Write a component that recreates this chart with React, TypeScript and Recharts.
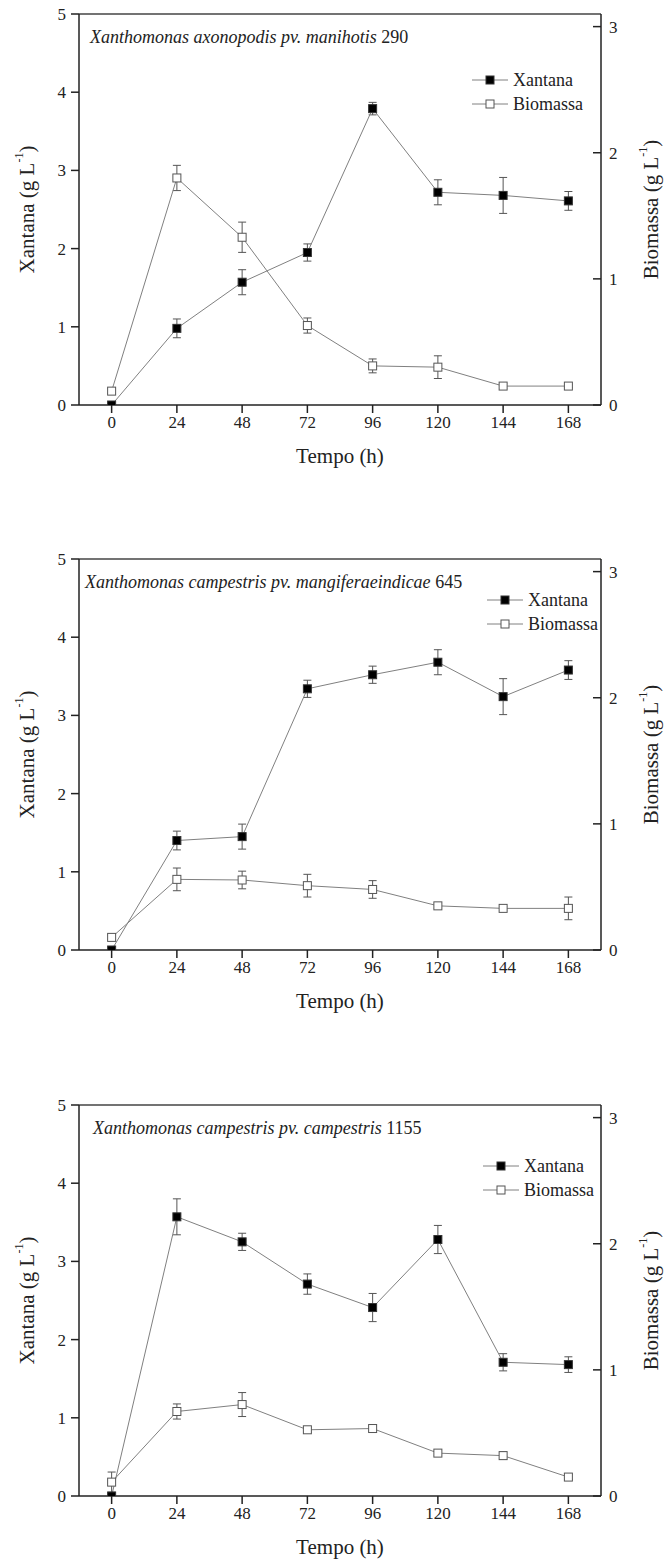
import React from 'react'
import {
  ComposedChart,
  Line,
  XAxis,
  YAxis,
  ErrorBar,
  ReferenceLine,
  Legend,
  Customized,
} from 'recharts'

const serif = "'Liberation Serif', 'Times New Roman', serif"

const hours = [0, 24, 48, 72, 96, 120, 144, 168]
const xTicks = [0, 24, 48, 72, 96, 120, 144, 168]
const leftTicks = [0, 1, 2, 3, 4, 5]
const rightTicks = [0, 1, 2, 3]

// X. axonopodis pv. manihotis 290
const xan290 = [0, 0.98, 1.57, 1.95, 3.79, 2.72, 2.68, 2.61]
const xan290Err = [0, 0.12, 0.16, 0.11, 0.08, 0.16, 0.23, 0.12]
const bio290 = [0.11, 1.8, 1.33, 0.63, 0.31, 0.3, 0.15, 0.15]
const bio290Err = [0.02, 0.1, 0.12, 0.06, 0.055, 0.09, 0.02, 0.01]

// X. campestris pv. mangiferaeindicae 645
const xan645 = [0, 1.4, 1.45, 3.34, 3.52, 3.68, 3.24, 3.58]
const xan645Err = [0, 0.12, 0.16, 0.11, 0.11, 0.16, 0.23, 0.12]
const bio645 = [0.1, 0.56, 0.555, 0.51, 0.48, 0.35, 0.33, 0.33]
const bio645Err = [0.02, 0.09, 0.07, 0.09, 0.07, 0.02, 0.015, 0.09]

// X. campestris pv. campestris 1155
const xan1155 = [0, 3.57, 3.25, 2.71, 2.41, 3.28, 1.71, 1.68]
const xan1155Err = [0, 0.23, 0.11, 0.13, 0.18, 0.18, 0.11, 0.1]
const bio1155 = [0.11, 0.67, 0.725, 0.525, 0.535, 0.34, 0.32, 0.15]
const bio1155Err = [0.08, 0.06, 0.095, 0.02, 0.02, 0.02, 0.03, 0.02]

const axisColor = '#222'
const lineColor = '#808080'

const FilledSquare = (p: any) => {
  if (p.cx == null || p.cy == null) return <g key={p.index} />
  return <rect key={p.index} x={p.cx - 4} y={p.cy - 4} width={8} height={8} fill="#000" stroke="#333" strokeWidth={1} />
}

const OpenSquare = (p: any) => {
  if (p.cx == null || p.cy == null) return <g key={p.index} />
  return <rect key={p.index} x={p.cx - 4} y={p.cy - 4} width={8} height={8} fill="#fff" stroke="#555" strokeWidth={1} />
}

const LegendRow = ({ filled, label }: { filled: boolean; label: string }) => (
  <div style={{ display: 'flex', alignItems: 'center', height: 24 }}>
    <svg width={36} height={12}>
      <line x1={0} y1={6} x2={36} y2={6} stroke={lineColor} strokeWidth={1} />
      <rect x={14} y={2} width={8} height={8} fill={filled ? '#000' : '#fff'} stroke={filled ? '#333' : '#555'} />
    </svg>
    <span style={{ marginLeft: 5, fontFamily: serif, fontSize: 18, color: '#222', lineHeight: '24px' }}>{label}</span>
  </div>
)

type PanelProps = {
  top: number
  name: string
  strain: string
  titleX: number
  legendX: number
  legendY: number
  xan: number[]
  xanErr: number[]
  bio: number[]
  bioErr: number[]
}

const Panel = ({ top, name, strain, titleX, legendX, legendY, xan, xanErr, bio, bioErr }: PanelProps) => {
  const data = hours.map((t, i) => ({
    t,
    xantana: xan[i],
    xantanaErr: xanErr[i],
    biomassa: bio[i],
    biomassaErr: bioErr[i],
  }))

  const tickStyle = { fill: '#222', fontSize: 17, fontFamily: serif }

  return (
    <div style={{ position: 'absolute', left: 0, top }}>
      <ComposedChart width={664} height={475} data={data} margin={{ top: 14, right: 0, bottom: 0, left: 0 }}>
        <XAxis
          dataKey="t"
          type="number"
          domain={[-12, 180]}
          ticks={xTicks}
          height={70}
          tickSize={8}
          tickMargin={3}
          axisLine={{ stroke: axisColor, strokeWidth: 1.5 }}
          tickLine={{ stroke: axisColor, strokeWidth: 1.5 }}
          tick={tickStyle}
          allowDataOverflow
        />
        <YAxis
          yAxisId="left"
          width={79}
          domain={[0, 5]}
          ticks={leftTicks}
          tickSize={8}
          tickMargin={5}
          axisLine={{ stroke: axisColor, strokeWidth: 1.5 }}
          tickLine={{ stroke: axisColor, strokeWidth: 1.5 }}
          tick={tickStyle}
          allowDataOverflow
        />
        <YAxis
          yAxisId="right"
          orientation="right"
          width={63}
          domain={[0, 3.1]}
          ticks={rightTicks}
          tickSize={-8}
          tickMargin={16}
          axisLine={{ stroke: axisColor, strokeWidth: 1.5 }}
          tickLine={{ stroke: axisColor, strokeWidth: 1.5 }}
          tick={tickStyle}
          allowDataOverflow
        />
        <ReferenceLine yAxisId="left" y={5} stroke="#444" strokeWidth={1.5} />
        <Line
          yAxisId="left"
          type="linear"
          dataKey="xantana"
          stroke={lineColor}
          strokeWidth={1}
          dot={FilledSquare}
          activeDot={false}
          isAnimationActive={false}
        >
          <ErrorBar dataKey="xantanaErr" direction="y" width={4} stroke="#555" strokeWidth={1} isAnimationActive={false} />
        </Line>
        <Line
          yAxisId="right"
          type="linear"
          dataKey="biomassa"
          stroke={lineColor}
          strokeWidth={1}
          dot={OpenSquare}
          activeDot={false}
          isAnimationActive={false}
        >
          <ErrorBar dataKey="biomassaErr" direction="y" width={4} stroke="#555" strokeWidth={1} isAnimationActive={false} />
        </Line>
        <Legend
          layout="horizontal"
          verticalAlign="middle"
          align="center"
          content={() => (
            <div>
              <LegendRow filled label="Xantana" />
              <LegendRow filled={false} label="Biomassa" />
            </div>
          )}
          wrapperStyle={{ left: legendX, top: legendY - 12, width: 140, height: 48 }}
        />
        <Customized
          component={() => (
            <g fontFamily={serif} fill="#222">
              <text x={titleX} y={37} fontSize={18} dominantBaseline="central">
                <tspan fontStyle="italic">{name}</tspan>
                <tspan> {strain}</tspan>
              </text>
              <text x={340} y={456} fontSize={21} textAnchor="middle" dominantBaseline="central">
                Tempo (h)
              </text>
              <text x={27} y={209.5} fontSize={21} textAnchor="middle" dominantBaseline="central" transform="rotate(-90 27 209.5)">
                Xantana (g L<tspan fontSize={12} dy={-8}>-1</tspan>
                <tspan dy={8}>)</tspan>
              </text>
              <text x={651} y={209.5} fontSize={21} textAnchor="middle" dominantBaseline="central" transform="rotate(-90 651 209.5)">
                Biomassa (g L<tspan fontSize={12} dy={-8}>-1</tspan>
                <tspan dy={8}>)</tspan>
              </text>
            </g>
          )}
        />
      </ComposedChart>
    </div>
  )
}

export default function App() {
  return (
    <div style={{ position: 'absolute', left: 0, top: 0, width: 664, height: 1562, background: '#fff', overflow: 'hidden' }}>
      <Panel
        top={0}
        name="Xanthomonas axonopodis pv. manihotis"
        strain="290"
        titleX={90}
        legendX={472}
        legendY={80}
        xan={xan290}
        xanErr={xan290Err}
        bio={bio290}
        bioErr={bio290Err}
      />
      <Panel
        top={545}
        name="Xanthomonas campestris pv. mangiferaeindicae"
        strain="645"
        titleX={85}
        legendX={487}
        legendY={55}
        xan={xan645}
        xanErr={xan645Err}
        bio={bio645}
        bioErr={bio645Err}
      />
      <Panel
        top={1091}
        name="Xanthomonas campestris pv. campestris"
        strain="1155"
        titleX={93}
        legendX={483}
        legendY={75}
        xan={xan1155}
        xanErr={xan1155Err}
        bio={bio1155}
        bioErr={bio1155Err}
      />
    </div>
  )
}
